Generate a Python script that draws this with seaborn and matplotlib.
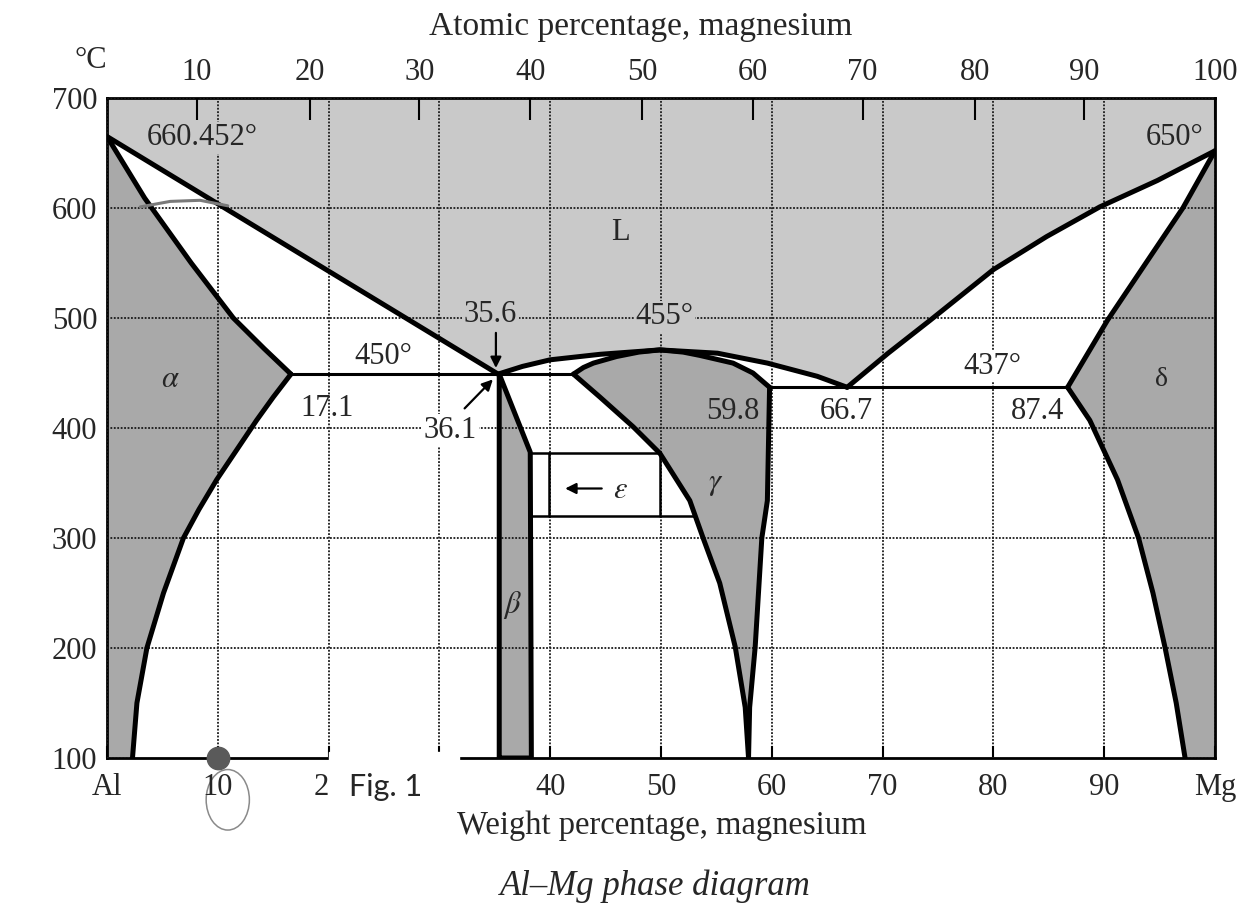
import matplotlib
matplotlib.use('Agg')
import numpy as np
import pandas as pd
import matplotlib.pyplot as plt
import seaborn as sns
from matplotlib.patches import Rectangle, Ellipse

# phase boundaries (wt% Mg, deg C)
liq_al_x = [0, 35.3]
liq_al_t = [665, 449]
sol_al_x = [0, 3.4, 7.6, 11.4, 14.2, 16.6]
sol_al_t = [665, 609, 550, 500, 472, 449]
solv_al_x = [16.6, 15.0, 13.5, 11.7, 9.9, 8.3, 6.9, 5.1, 3.6, 2.7, 2.3]
solv_al_t = [449, 428, 407, 380, 353, 326, 300, 250, 200, 150, 100]

liq_mid_x = [35.3, 37.5, 40.0, 44.5, 49.9, 55.1, 59.6, 64.1, 66.8]
liq_mid_t = [449, 456, 462, 467, 471, 468, 459, 447, 437]
gam_top_x = [42.1, 43.0, 43.9, 46.0, 48.0, 49.9, 52.0, 53.5, 56.5, 58.3, 59.8]
gam_top_t = [449, 455, 459, 465, 469, 471, 469, 466, 459, 450, 437]
gam_left_x = [42.1, 44.5, 47.5, 49.9, 52.6, 53.8, 55.3, 56.7, 57.6, 57.9]
gam_left_t = [449, 428, 401, 377, 334, 300, 259, 201, 146, 100]
gam_right_x = [59.8, 59.6, 59.1, 58.5, 58.0, 57.9]
gam_right_t = [437, 334, 300, 201, 146, 100]

beta_x = [35.4, 35.4, 38.2, 38.3, 35.4]
beta_t = [100, 449, 378, 100, 100]
eps_hi_x, eps_hi_t = [38.3, 49.9], [377, 377]
eps_lo_x, eps_lo_t = [38.3, 53.1], [320, 320]
eps_v1_x, eps_v2_x, eps_v_t = [39.9, 39.9], [49.9, 49.9], [320, 377]

eut1_x, eut1_t = [16.6, 42.1], [449, 449]
eut2_x, eut2_t = [59.8, 86.7], [437, 437]

liq_mg_x = [66.8, 70.5, 74.3, 80.0, 84.8, 89.6, 94.8, 100]
liq_mg_t = [437, 468, 498, 544, 574, 601, 625, 652]
sol_mg_x = [86.7, 90.3, 93.7, 97.1, 100]
sol_mg_t = [437, 498, 549, 600, 652]
solv_mg_x = [86.7, 88.7, 91.2, 93.1, 94.4, 95.5, 96.5, 97.3]
solv_mg_t = [437, 407, 353, 300, 250, 200, 150, 100]

# axis ticks
wt_ticks = [0, 10, 20, 30, 40, 50, 60, 70, 80, 90, 100]
wt_labels = ['Al', '10', '', '', '40', '50', '60', '70', '80', '90', 'Mg']
at_ticks = [8.1, 18.3, 28.2, 38.2, 48.3, 58.3, 68.2, 78.3, 88.2, 100]
at_labels = ['10', '20', '30', '40', '50', '60', '70', '80', '90', '100']
t_ticks = [100, 200, 300, 400, 500, 600, 700]

light = '#c9c9c9'
dark = '#a9a9a9'

sns.set_theme(style='white')
plt.rcParams['font.family'] = ['Liberation Serif', 'DejaVu Serif']
plt.rcParams['mathtext.fontset'] = 'stix'

fig = plt.figure(figsize=(12.49, 9.09), dpi=100)
ax = fig.add_axes([107/1249, 1-758/909, 1108/1249, 660/909])
ax.set_xlim(0, 100)
ax.set_ylim(100, 700)

# region fills
L_x = np.concatenate([[0, 100], liq_mg_x[::-1], liq_mid_x[::-1], liq_al_x[::-1]])
L_t = np.concatenate([[700, 700], liq_mg_t[::-1], liq_mid_t[::-1], liq_al_t[::-1]])
ax.fill(L_x, L_t, color=light, lw=0, zorder=1)
a_x = np.concatenate([sol_al_x, solv_al_x, [0]])
a_t = np.concatenate([sol_al_t, solv_al_t, [100]])
ax.fill(a_x, a_t, color=dark, lw=0, zorder=1)
ax.fill(beta_x, beta_t, color=dark, lw=0, zorder=1)
g_x = np.concatenate([gam_top_x, gam_right_x, gam_left_x[::-1]])
g_t = np.concatenate([gam_top_t, gam_right_t, gam_left_t[::-1]])
ax.fill(g_x, g_t, color=dark, lw=0, zorder=1)
d_x = np.concatenate([sol_mg_x[::-1], solv_mg_x, [100]])
d_t = np.concatenate([sol_mg_t[::-1], solv_mg_t, [100]])
ax.fill(d_x, d_t, color=dark, lw=0, zorder=1)

# boundaries
thick = [(liq_al_x, liq_al_t), (sol_al_x, sol_al_t), (solv_al_x, solv_al_t),
         (liq_mid_x, liq_mid_t), (gam_top_x, gam_top_t), (gam_left_x, gam_left_t),
         (gam_right_x, gam_right_t), (beta_x, beta_t), (liq_mg_x, liq_mg_t),
         (sol_mg_x, sol_mg_t), (solv_mg_x, solv_mg_t)]
for xs, ts in thick:
    sns.lineplot(x=xs, y=ts, sort=False, estimator=None, color='black', lw=3.6,
                 ax=ax, zorder=3, solid_joinstyle='round')
thin = [(eut1_x, eut1_t, 2.2), (eut2_x, eut2_t, 2.2), (eps_hi_x, eps_hi_t, 1.8),
        (eps_lo_x, eps_lo_t, 1.8), (eps_v1_x, eps_v_t, 1.8), (eps_v2_x, eps_v_t, 1.8)]
for xs, ts, w in thin:
    sns.lineplot(x=xs, y=ts, sort=False, estimator=None, color='black', lw=w,
                 ax=ax, zorder=3)

# grid, frame, ticks
ax.set_xticks(wt_ticks)
ax.set_xticklabels(wt_labels)
ax.set_yticks(t_ticks)
ax.grid(True, color='#1a1a1a', linestyle=(0, (1.0, 0.9)), linewidth=1.3)
ax.set_axisbelow(False)
for s in ax.spines.values():
    s.set_color('black')
    s.set_linewidth(2)
ax.tick_params(axis='x', direction='in', length=9, width=1.5, labelsize=22, pad=11, color='black')
ax.tick_params(axis='y', direction='in', length=16, width=1.5, labelsize=22, pad=7, color='black')
ax.set_xlabel('')
ax.set_ylabel('')

ax2 = ax.twiny()
ax2.set_xlim(0, 100)
ax2.set_xticks(at_ticks)
ax2.set_xticklabels(at_labels)
ax2.tick_params(axis='x', direction='in', length=16, width=1.5, labelsize=22, pad=8, color='black')
ax2.grid(False)
for s in ax2.spines.values():
    s.set_visible(False)

# labels on the diagram
fs = 22
ax.text(8.6, 664, '660.452°', fontsize=fs, ha='center', va='center', zorder=4,
        bbox=dict(facecolor=light, edgecolor='none', pad=1))
ax.text(96.4, 664, '650°', fontsize=fs, ha='center', va='center', zorder=4)
ax.text(46.3, 578, 'L', fontsize=fs, ha='center', va='center', zorder=4)
ax.text(5.7, 444, r'$\alpha$', fontsize=fs, ha='center', va='center', zorder=4)
ax.text(95.2, 444, 'δ', fontsize=20, ha='center', va='center', zorder=4)
ax.text(36.6, 239, r'$\beta$', fontsize=fs, ha='center', va='center', zorder=4)
ax.text(54.9, 350, r'$\gamma$', fontsize=fs, ha='center', va='center', zorder=4)
ax.text(46.3, 343, r'$\epsilon$', fontsize=fs, ha='center', va='center', zorder=4)
ax.annotate('', xy=(41.1, 345), xytext=(44.9, 345), zorder=4,
            arrowprops=dict(arrowstyle='-|>', color='black', lw=1.6, mutation_scale=16))
ax.text(24.9, 465, '450°', fontsize=fs, ha='center', va='center', zorder=4)
ax.text(19.9, 418, '17.1', fontsize=fs, ha='center', va='center', zorder=4)
ax.text(34.6, 503, '35.6', fontsize=fs, ha='center', va='center', zorder=4,
        bbox=dict(facecolor=light, edgecolor='none', pad=1))
ax.annotate('', xy=(35.1, 452), xytext=(35.1, 489), zorder=4,
            arrowprops=dict(arrowstyle='-|>', color='black', lw=1.6, mutation_scale=16))
ax.text(31.0, 398, '36.1', fontsize=fs, ha='center', va='center', zorder=4,
        bbox=dict(facecolor='white', edgecolor='none', pad=1))
ax.annotate('', xy=(35.0, 446), xytext=(32.1, 416), zorder=4,
            arrowprops=dict(arrowstyle='-|>', color='black', lw=1.6, mutation_scale=16))
ax.text(50.3, 501, '455°', fontsize=fs, ha='center', va='center', zorder=4,
        bbox=dict(facecolor=light, edgecolor='none', pad=1))
ax.text(56.5, 415, '59.8', fontsize=fs, ha='center', va='center', zorder=4)
ax.text(66.7, 415, '66.7', fontsize=fs, ha='center', va='center', zorder=4)
ax.text(84.0, 415, '87.4', fontsize=fs, ha='center', va='center', zorder=4)
ax.text(79.9, 456, '437°', fontsize=fs, ha='center', va='center', zorder=4,
        bbox=dict(facecolor='white', edgecolor='none', pad=1))

# scan artefacts: pasted patch over the axis, pen marks
ax.add_patch(Rectangle((20.05, 95), 11.7, 10.5, color='white', zorder=5, clip_on=False))
ax.annotate('2', xy=(20, 100), xytext=(0, -11), textcoords='offset points',
            ha='right', va='top', fontsize=22, annotation_clip=False)
ax.scatter([10], [100], s=260, color='#5a5a5a', zorder=6, clip_on=False)
ax.add_patch(Ellipse((10.9, 62), 3.9, 55, fill=False, ec='#8a8a8a', lw=1.1, clip_on=False))
ax.plot([3.0, 5.7, 8.4, 10.9], [601, 606, 607, 602], color='#7a7a7a', lw=2.2, zorder=4)

fig.text(91/1249, 1-60/909, '°C', fontsize=22, ha='center', va='center')
fig.text(641/1249, 1-27/909, 'Atomic percentage, magnesium', fontsize=24, ha='center', va='center')
fig.text(662/1249, 1-826/909, 'Weight percentage, magnesium', fontsize=23.5, ha='center', va='center')
fig.text(655/1249, 1-886/909, 'Al–Mg phase diagram', fontsize=25, ha='center', va='center',
         style='italic')
fig.text(386/1249, 1-787/909, 'Fig. 1', fontsize=22, ha='center', va='center',
         family=['Lato', 'DejaVu Sans'])

fig.savefig('out.png', dpi=100, facecolor='white')
